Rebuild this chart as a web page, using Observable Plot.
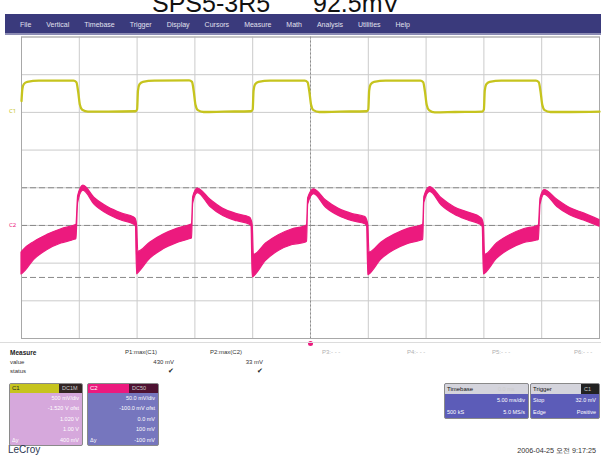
<!DOCTYPE html>
<html><head><meta charset="utf-8">
<script src="https://cdn.jsdelivr.net/npm/d3@7"></script>
<script src="https://cdn.jsdelivr.net/npm/@observablehq/plot@0.6"></script>
<style>
body{margin:0;background:#fff;font-family:"Liberation Sans",Arial,sans-serif;}
#wrap{position:relative;width:601px;height:457px;overflow:hidden;background:#fff;}
.a{position:absolute;white-space:nowrap;}
#plot{position:absolute;left:0;top:30px;}
</style></head><body><div id="wrap"><div id="plot"></div></div>
<script>
// ---- data (screen divisions: time 0..10, level -4..4) ----
const titleText = ["SPS5-3R5", "92.5mV"];
const menuItems = ["File","Vertical","Timebase","Trigger","Display","Cursors","Measure","Math","Analysis","Utilities","Help"];
const gridX = [0,1,2,3,4,5,6,7,8,9,10];
const gridY = [-4,-3,-2,-1,0,1,2,3,4];
const levelLines = [0, -1.0, -2.38];
const triggerTime = [5];

const c1Time = [0.00,0.015,0.04,0.10,0.30,0.90,0.95,0.98,1.01,1.05,1.15,1.50,1.97,
  2.00,2.015,2.04,2.10,2.30,2.90,2.95,2.98,3.01,3.05,3.15,3.50,3.97,
  4.00,4.015,4.04,4.10,4.30,4.90,4.95,4.98,5.01,5.05,5.15,5.50,5.97,
  6.00,6.015,6.04,6.10,6.30,6.90,6.95,6.98,7.01,7.05,7.15,7.50,7.97,
  8.00,8.015,8.04,8.10,8.30,8.90,8.95,8.98,9.01,9.05,9.15,9.50,10.0];
const c1Level = [2.30,2.62,2.75,2.81,2.84,2.84,2.80,2.55,2.20,2.07,2.02,2.02,2.03,
  2.08,2.58,2.74,2.81,2.84,2.85,2.81,2.56,2.20,2.06,2.01,2.02,2.03,
  2.08,2.58,2.74,2.81,2.84,2.84,2.80,2.55,2.20,2.06,2.01,2.02,2.03,
  2.08,2.58,2.74,2.81,2.84,2.84,2.80,2.55,2.20,2.06,2.00,2.01,2.02,
  2.08,2.58,2.74,2.81,2.84,2.84,2.80,2.55,2.20,2.06,2.01,2.01,2.02];

const c2Time = [0.00,0.02,0.23,0.45,0.69,0.92,0.95,0.98,1.07,1.27,1.50,1.73,1.95,1.98,
  2.00,2.02,2.23,2.45,2.69,2.92,2.95,2.97,3.05,3.27,3.49,3.73,3.95,3.98,
  4.00,4.02,4.23,4.45,4.69,4.91,4.94,4.96,5.06,5.27,5.49,5.73,5.95,5.98,
  6.00,6.02,6.23,6.45,6.69,6.92,6.95,6.97,7.07,7.27,7.49,7.73,7.95,7.98,
  8.00,8.02,8.23,8.45,8.69,8.92,8.95,8.98,9.05,9.27,9.49,9.73,10.0];
const c2Low = [-2.30,-2.28,-1.90,-1.65,-1.48,-1.38,-1.36,-0.40,-0.08,-0.46,-0.71,-0.87,-0.98,-1.03,
  -2.30,-2.27,-1.88,-1.64,-1.47,-1.36,-1.34,-0.42,-0.14,-0.51,-0.75,-0.89,-0.98,-1.03,
  -2.38,-2.36,-1.94,-1.68,-1.52,-1.46,-1.43,-0.45,-0.17,-0.53,-0.75,-0.89,-0.97,-1.03,
  -2.32,-2.30,-1.90,-1.66,-1.49,-1.40,-1.38,-0.40,-0.11,-0.47,-0.71,-0.87,-0.99,-1.05,
  -2.30,-2.28,-1.88,-1.64,-1.47,-1.40,-1.38,-0.45,-0.18,-0.51,-0.73,-0.87,-1.03];
const c2High = [-1.72,-1.68,-1.43,-1.25,-1.10,-1.00,-0.98,-0.22,0.06,-0.28,-0.52,-0.68,-0.79,-0.84,
  -1.00,-1.70,-1.45,-1.25,-1.09,-0.99,-0.97,-0.25,-0.02,-0.32,-0.56,-0.70,-0.79,-0.86,
  -1.00,-1.78,-1.48,-1.26,-1.10,-1.02,-0.99,-0.28,-0.04,-0.34,-0.56,-0.70,-0.78,-0.86,
  -1.00,-1.72,-1.45,-1.25,-1.09,-1.00,-0.98,-0.24,0.02,-0.28,-0.52,-0.66,-0.80,-0.86,
  -1.00,-1.78,-1.47,-1.26,-1.10,-1.02,-1.00,-0.28,-0.06,-0.32,-0.54,-0.68,-0.86];

const channelLabels = ["C1","C2"];
const channelLevels = [2.03, -1.0];

const measureHeads = ["P1:max(C1)","P2:max(C2)"];
const measureValues = ["430 mV","33 mV"];
const emptyParams = ["P3:- - -","P4:- - -","P5:- - -","P6:- - -"];
const c1Rows = [["","500 mV/div"],["","-1.520 V ofst"],["","1.020 V"],["","1.00 V"],["Δy","400 mV"]];
const c2Rows = [["","50.0 mV/div"],["","-100.0 mV ofst"],["","0.0 mV"],["","100 mV"],["Δy","-100 mV"]];
const timebaseRows = [["","5.00 ms/div"],["500 kS","5.0 MS/s"]];
const triggerRows = [["Stop","32.0 mV"],["Edge","Positive"]];
const dateText = "2006-04-25 오전 9:17:25";

// ---- colours ----
const PINK = "#ec1a7e", YEL = "#c6c41e";

const wrap = document.getElementById("wrap");
function el(css, html){const d=document.createElement("div");d.className="a";d.style.cssText=css;if(html!==undefined)d.innerHTML=html;wrap.appendChild(d);return d;}

// title (cropped at top, as in the reference)
el("left:152px;top:-10px;font-size:25px;line-height:26px;color:#111;", titleText[0]);
el("left:313px;top:-10px;font-size:25px;line-height:26px;color:#111;", titleText[1]);

// plot
const c1 = c1Time.map((t,i)=>({t, v:c1Level[i]}));
const c2 = c2Time.map((t,i)=>({t, lo:c2Low[i], hi:c2High[i]}));
const labels = channelLabels.map((l,i)=>({l, v:channelLevels[i]}));
const chart = Plot.plot({
  width: 601, height: 320,
  marginLeft: 21, marginRight: 2, marginTop: 6.5, marginBottom: 12,
  x: {domain: [0,10], axis: null},
  y: {domain: [-4,4], axis: null},
  style: {background: "transparent", overflow: "visible"},
  marks: [
    Plot.ruleX(gridX, {stroke: "#cbcbcb", strokeWidth: 1}),
    Plot.ruleY(gridY, {stroke: "#cbcbcb", strokeWidth: 1}),
    Plot.ruleX([5], {stroke: "#8c8c8c", strokeDasharray: "2,2"}),
    Plot.ruleY(levelLines, {stroke: "#8a8a8a", strokeDasharray: "6,3"}),
    Plot.frame({stroke: "#a8a8a8"}),
    Plot.areaY(c2, {x: "t", y1: "lo", y2: "hi", fill: PINK, stroke: PINK, strokeWidth: 1.2, curve: "monotone-x"}),
    Plot.line(c1, {x: "t", y: "v", stroke: YEL, strokeWidth: 2.3, curve: "monotone-x"}),
    Plot.text(labels, {x: 0, y: "v", text: "l", dx: -9, fontSize: 6, fill: (d,i)=> i===0 ? YEL : PINK}),
    Plot.dot(triggerTime, {x: d=>d, y: -4, dy: 5, r: 2.5, fill: PINK})
  ]
});
document.getElementById("plot").appendChild(chart);

// menu bar
el("left:5px;top:14px;width:596px;height:19px;background:#3a3a7c;border-bottom:2px solid #8c8cb4;z-index:2;");
let mx = 20;
menuItems.forEach(m=>{
  const s = el("left:"+mx+"px;top:20.5px;font-size:7px;color:#e0e0ee;z-index:3;", m);
  mx += s.getBoundingClientRect().width + 15;
});

// measure table
el("left:0;top:342px;width:601px;height:1px;background:#dcdcdc;");
el("left:10px;top:349px;font-size:6.5px;font-weight:bold;color:#222;", "Measure");
el("left:10px;top:359px;font-size:6px;color:#333;", "value");
el("left:10px;top:368px;font-size:6px;color:#333;", "status");
[[157,measureHeads[0],measureValues[0],174],[242,measureHeads[1],measureValues[1],263]].forEach(([hx,h,v,vx])=>{
  el("right:"+(601-hx)+"px;top:349px;font-size:6px;color:#333;", h);
  el("right:"+(601-vx)+"px;top:359px;font-size:6px;color:#333;", v);
  el("right:"+(601-vx)+"px;top:367px;font-size:7px;color:#222;", "✔");
});
[322,407,492,574].forEach((x,i)=>el("left:"+x+"px;top:349px;font-size:6px;color:#b0b0b0;", emptyParams[i]));

// channel panels
function panel(left, top, w, hh, bh, headL, headR, headSplit, body, rows, headText, headRText, txtCol, hdrTxtCol){
  const p = el("left:"+left+"px;top:"+top+"px;width:"+w+"px;height:"+(hh+bh)+"px;border:1px solid #8a8a8a;border-radius:2px;overflow:hidden;background:"+body+";");
  const a = document.createElement("div"); a.style.cssText="position:absolute;left:0;top:0;width:"+headSplit+"px;height:"+hh+"px;background:"+headL+";font-size:6px;line-height:"+hh+"px;color:"+hdrTxtCol+";padding-left:2px;box-sizing:border-box;"; a.textContent=headText; p.appendChild(a);
  const b = document.createElement("div"); b.style.cssText="position:absolute;left:"+headSplit+"px;top:0;right:0;height:"+hh+"px;background:"+headR+";font-size:5.5px;line-height:"+hh+"px;color:#ccc;padding-left:3px;box-sizing:border-box;"; b.textContent=headRText; p.appendChild(b);
  const rh = bh/rows.length;
  rows.forEach((r,i)=>{
    const q = document.createElement("div");
    q.style.cssText="position:absolute;left:2px;right:3px;top:"+(hh+i*rh)+"px;height:"+rh+"px;line-height:"+rh+"px;font-size:5.5px;color:"+txtCol+";";
    q.innerHTML = "<span>"+r[0]+"</span><span style='position:absolute;right:0'>"+r[1]+"</span>";
    p.appendChild(q);
  });
}
panel(9,383,72,9,52,YEL,"#342626",49,"#d6a8dc",c1Rows,"C1","DC1M","#fff","#222");
panel(87,383,70,9,52,PINK,"#4e1232",41,"#7676be",c2Rows,"C2","DC50","#fff","#fff");
panel(444,383,83,10,24,"#d4d4dc","#d4d4dc",50,"#5c5cb8",timebaseRows,"Timebase","0.0 ms","#fff","#111");
panel(530,383,68,10,24,"#d4d4dc","#222",50,"#5c5cb8",triggerRows,"Trigger","C1","#fff","#111");

// footer
el("left:8px;top:444px;font-size:10px;color:#2a3550;", "LeCroy");
el("right:5px;top:446px;font-size:7.2px;color:#333;", dateText);
</script></body></html>
